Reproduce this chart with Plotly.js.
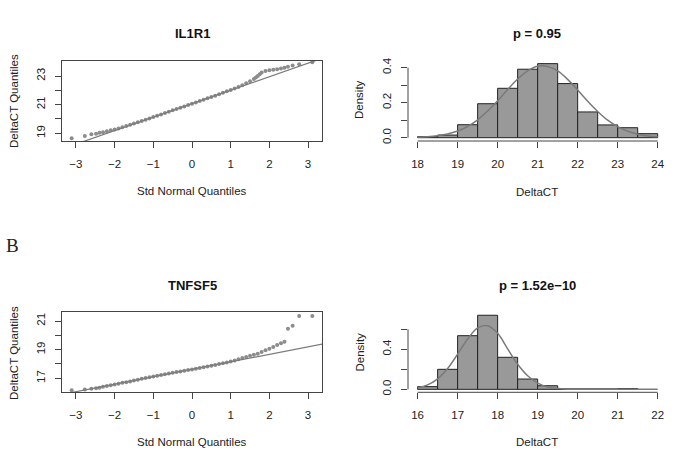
<!DOCTYPE html>
<html>
<head>
<meta charset="utf-8">
<script src="https://cdn.plot.ly/plotly-3.0.1.min.js"></script>
<style>
  html, body { margin: 0; padding: 0; background: #ffffff; }
  #chart { width: 676px; height: 468px; }
</style>
</head>
<body>
<div id="chart"></div>
<script>
// ---------- Panel A: IL1R1 ----------
const il1r1QQx = [-3.11,-2.77,-2.60,-2.48,-2.39,
  -2.3,-2.2,-2.1,-2.0,-1.9,-1.8,-1.7,-1.6,-1.5,-1.4,-1.3,-1.2,-1.1,-1.0,-0.9,-0.8,-0.7,-0.6,-0.5,-0.4,-0.3,-0.2,-0.1,
  0,0.1,0.2,0.3,0.4,0.5,0.6,0.7,0.8,0.9,1.0,1.1,1.2,1.3,1.4,1.5,1.6,1.65,1.7,1.75,1.8,1.9,2.0,2.1,2.2,2.3,
  2.39,2.48,2.60,2.77,3.11];
const il1r1QQy = [18.65,18.81,18.93,18.97,19.03,
  19.08,19.15,19.21,19.27,19.34,19.42,19.50,19.59,19.68,19.77,19.86,19.95,20.04,20.13,20.22,20.32,20.41,20.50,20.60,20.69,20.78,20.87,20.97,
  21.06,21.15,21.25,21.34,21.44,21.53,21.63,21.73,21.83,21.93,22.03,22.13,22.24,22.36,22.49,22.63,22.80,22.90,23.00,23.13,23.25,23.35,23.40,23.44,23.48,23.53,
  23.58,23.65,23.73,23.82,23.96];
const il1r1LineX = [-3.5, 3.5];
const il1r1LineY = [17.77, 24.37];

const il1r1BinMid = [18.25,18.75,19.25,19.75,20.25,20.75,21.25,21.75,22.25,22.75,23.25,23.75];
const il1r1Density = [0.006,0.015,0.074,0.194,0.282,0.391,0.423,0.309,0.147,0.073,0.057,0.023];
const il1r1CurveX = [18,18.25,18.5,18.75,19,19.25,19.5,19.75,20,20.25,20.5,20.75,21,21.25,21.5,21.75,22,22.25,22.5,22.75,23,23.25,23.5,23.75,24];
const il1r1CurveY = [0.002,0.005,0.011,0.021,0.038,0.064,0.102,0.152,0.211,0.275,0.335,0.382,0.408,0.407,0.381,0.333,0.272,0.208,0.150,0.100,0.063,0.037,0.020,0.010,0.005];

// ---------- Panel B: TNFSF5 ----------
const tnfsf5QQx = [-3.11,-2.77,-2.60,-2.48,-2.39,
  -2.3,-2.2,-2.1,-2.0,-1.9,-1.8,-1.7,-1.6,-1.5,-1.4,-1.3,-1.2,-1.1,-1.0,-0.9,-0.8,-0.7,-0.6,-0.5,-0.4,-0.3,-0.2,-0.1,
  0,0.1,0.2,0.3,0.4,0.5,0.6,0.7,0.8,0.9,1.0,1.1,1.2,1.3,1.4,1.5,1.6,1.7,1.8,1.9,2.0,2.1,2.2,2.3,
  2.39,2.48,2.60,2.77,3.11];
const tnfsf5QQy = [16.17,16.22,16.27,16.30,16.34,
  16.40,16.46,16.52,16.57,16.62,16.68,16.73,16.78,16.84,16.90,16.96,17.02,17.08,17.13,17.18,17.23,17.28,17.33,17.38,17.43,17.48,17.53,17.58,
  17.62,17.67,17.72,17.77,17.82,17.87,17.93,17.99,18.05,18.11,18.18,18.25,18.33,18.41,18.49,18.57,18.64,18.72,18.84,18.96,19.06,19.18,19.32,19.45,
  19.56,20.46,20.67,21.35,21.35];
const tnfsf5LineX = [-3.5, 3.5];
const tnfsf5LineY = [15.80, 19.46];

const tnfsf5BinMid = [16.25,16.75,17.25,17.75,18.25,18.75,19.25,19.75,20.25,20.75,21.25];
const tnfsf5Density = [0.027,0.200,0.536,0.740,0.320,0.103,0.036,0.004,0.004,0.004,0.007];
const tnfsf5CurveX = [16,16.25,16.5,16.75,17,17.25,17.5,17.75,18,18.25,18.5,18.75,19,19.25,19.5,19.75,20,20.25,20.5,20.75,21,21.25,21.5,21.75,22];
const tnfsf5CurveY = [0.016,0.045,0.105,0.208,0.351,0.503,0.614,0.636,0.560,0.405,0.250,0.135,0.062,0.024,0.008,0.002,0.001,0,0,0,0,0,0,0,0];

// ---------- Labels ----------
const qqTicksX = [-3,-2,-1,0,1,2,3];
const il1r1QQTicks = [19,20,21,22,23];
const il1r1QQLabels = ['19','','21','','23'];
const tnfsf5QQTicks = [17,18,19,20,21];
const tnfsf5QQLabels = ['17','','19','','21'];
const il1r1HistTicksX = [18,19,20,21,22,23,24];
const tnfsf5HistTicksX = [16,17,18,19,20,21,22];
const il1r1DensTicks = [0,0.1,0.2,0.3,0.4];
const il1r1DensLabels = ['0.0','','0.2','','0.4'];
const tnfsf5DensTicks = [0,0.2,0.4,0.6];
const tnfsf5DensLabels = ['0.0','','0.4',''];

const PTS = '#8c8c8c';
const LINEC = '#7a7a7a';
const AX = '#444444';
const FONT = 'Liberation Sans, Arial, Helvetica, sans-serif';

const qqMarker = {size: 4, color: PTS, symbol: 'circle', line: {width: 0}};

const traces = [
  {x: il1r1QQx, y: il1r1QQy, type: 'scatter', mode: 'markers', xaxis: 'x', yaxis: 'y', marker: qqMarker},
  {x: il1r1LineX, y: il1r1LineY, type: 'scatter', mode: 'lines', xaxis: 'x', yaxis: 'y',
   line: {color: LINEC, width: 1.2}},
  {x: il1r1BinMid, y: il1r1Density, type: 'bar', width: 0.5, xaxis: 'x2', yaxis: 'y2',
   marker: {color: '#999999', line: {color: '#222222', width: 1}}},
  {x: il1r1CurveX, y: il1r1CurveY, type: 'scatter', mode: 'lines', xaxis: 'x2', yaxis: 'y2',
   line: {color: LINEC, width: 1.5, shape: 'spline'}},

  {x: tnfsf5QQx, y: tnfsf5QQy, type: 'scatter', mode: 'markers', xaxis: 'x3', yaxis: 'y3', marker: qqMarker},
  {x: tnfsf5LineX, y: tnfsf5LineY, type: 'scatter', mode: 'lines', xaxis: 'x3', yaxis: 'y3',
   line: {color: LINEC, width: 1.2}},
  {x: tnfsf5BinMid, y: tnfsf5Density, type: 'bar', width: 0.5, xaxis: 'x4', yaxis: 'y4',
   marker: {color: '#999999', line: {color: '#222222', width: 1}}},
  {x: tnfsf5CurveX, y: tnfsf5CurveY, type: 'scatter', mode: 'lines', xaxis: 'x4', yaxis: 'y4',
   line: {color: LINEC, width: 1.5, shape: 'spline'}}
];

const W = 676, H = 468;
const px = v => v / W;
const py = v => 1 - v / H;

const qqXDom = [px(62), px(322)];
const histXDom = [px(408), px(667.3)];
const topYDom = [py(141), py(61)];
const botYDom = [py(392.3), py(312.3)];

function baseAxis(extra) {
  return Object.assign({
    ticks: 'outside', ticklen: 6, tickcolor: AX, tickwidth: 1,
    showgrid: false, zeroline: false, fixedrange: true,
    tickfont: {family: FONT, size: 11.5, color: '#222'}}, extra);
}
const qqAxis = e => baseAxis(Object.assign({showline: true, mirror: true, linecolor: AX, linewidth: 1}, e));
const histAxis = e => baseAxis(Object.assign({showline: false}, e));
const XSO = 6, YSO = 5;

const layout = {
  width: W, height: H,
  margin: {l: 0, r: 0, t: 0, b: 0},
  paper_bgcolor: '#ffffff', plot_bgcolor: '#ffffff',
  showlegend: false, bargap: 0,
  font: {family: FONT, size: 11, color: '#222'},
  xaxis: qqAxis({domain: qqXDom, anchor: 'y', range: [-3.36, 3.36], tickmode: 'array', tickvals: qqTicksX, ticklabelstandoff: XSO}),
  yaxis: qqAxis({domain: topYDom, anchor: 'x', range: [18.46, 24.05], tickmode: 'array',
    tickvals: il1r1QQTicks, ticktext: il1r1QQLabels, tickangle: -90, ticklabelstandoff: YSO}),
  xaxis2: histAxis({domain: histXDom, anchor: 'y2', range: [17.76, 24.24], tickmode: 'array', tickvals: il1r1HistTicksX, ticklabelstandoff: XSO}),
  yaxis2: histAxis({domain: topYDom, anchor: 'x2', range: [-0.0189, 0.438], tickmode: 'array',
    tickvals: il1r1DensTicks, ticktext: il1r1DensLabels, tickangle: -90, ticklabelstandoff: YSO}),
  xaxis3: qqAxis({domain: qqXDom, anchor: 'y3', range: [-3.36, 3.36], tickmode: 'array', tickvals: qqTicksX, ticklabelstandoff: XSO}),
  yaxis3: qqAxis({domain: botYDom, anchor: 'x3', range: [16.02, 21.61], tickmode: 'array',
    tickvals: tnfsf5QQTicks, ticktext: tnfsf5QQLabels, tickangle: -90, ticklabelstandoff: YSO}),
  xaxis4: histAxis({domain: histXDom, anchor: 'y4', range: [15.76, 22.24], tickmode: 'array', tickvals: tnfsf5HistTicksX, ticklabelstandoff: XSO}),
  yaxis4: histAxis({domain: botYDom, anchor: 'x4', range: [-0.0296, 0.7696], tickmode: 'array',
    tickvals: tnfsf5DensTicks, ticktext: tnfsf5DensLabels, tickangle: -90, ticklabelstandoff: YSO}),
  shapes: [
    {type: 'line', xref: 'x2', yref: 'y2 domain', x0: il1r1HistTicksX[0], x1: il1r1HistTicksX[il1r1HistTicksX.length-1], y0: 0, y1: 0, line: {color: AX, width: 1}},
    {type: 'line', xref: 'x2 domain', yref: 'y2', x0: 0, x1: 0, y0: il1r1DensTicks[0], y1: il1r1DensTicks[il1r1DensTicks.length-1], line: {color: AX, width: 1}},
    {type: 'line', xref: 'x4', yref: 'y4 domain', x0: tnfsf5HistTicksX[0], x1: tnfsf5HistTicksX[tnfsf5HistTicksX.length-1], y0: 0, y1: 0, line: {color: AX, width: 1}},
    {type: 'line', xref: 'x4 domain', yref: 'y4', x0: 0, x1: 0, y0: tnfsf5DensTicks[0], y1: tnfsf5DensTicks[tnfsf5DensTicks.length-1], line: {color: AX, width: 1}}
  ],
  annotations: [
    {text: '<b>IL1R1</b>', x: px(192), y: py(34), font: {size: 13, family: FONT, color: '#111'}},
    {text: '<b>p = 0.95</b>', x: px(537), y: py(34), font: {size: 13, family: FONT, color: '#111'}},
    {text: '<b>TNFSF5</b>', x: px(192), y: py(285), font: {size: 13, family: FONT, color: '#111'}},
    {text: '<b>p = 1.52e\u221210</b>', x: px(537), y: py(285), font: {size: 13, family: FONT, color: '#111'}},
    {text: 'Std Normal Quantiles', x: px(192), y: py(191), font: {size: 11.5, family: FONT, color: '#222'}},
    {text: 'DeltaCT', x: px(537), y: py(191.5), font: {size: 11.5, family: FONT, color: '#222'}},
    {text: 'Std Normal Quantiles', x: px(192), y: py(441.7), font: {size: 11.5, family: FONT, color: '#222'}},
    {text: 'DeltaCT', x: px(537), y: py(441.7), font: {size: 11.5, family: FONT, color: '#222'}},
    {text: 'DeltaCT Quantiles', x: px(14), y: py(101), textangle: -90, font: {size: 11.5, family: FONT, color: '#222'}},
    {text: 'Density', x: px(359), y: py(100), textangle: -90, font: {size: 11.5, family: FONT, color: '#222'}},
    {text: 'DeltaCT Quantiles', x: px(14), y: py(353), textangle: -90, font: {size: 11.5, family: FONT, color: '#222'}},
    {text: 'Density', x: px(359), y: py(352.5), textangle: -90, font: {size: 11.5, family: FONT, color: '#222'}},
    {text: 'B', x: px(12.5), y: py(245), font: {size: 19, family: 'Liberation Serif, DejaVu Serif, serif', color: '#222'}}
  ].map(a => Object.assign({xref: 'paper', yref: 'paper', showarrow: false, xanchor: 'center', yanchor: 'middle'}, a))
};

Plotly.newPlot('chart', traces, layout, {displayModeBar: false, staticPlot: true});
</script>
</body>
</html>
